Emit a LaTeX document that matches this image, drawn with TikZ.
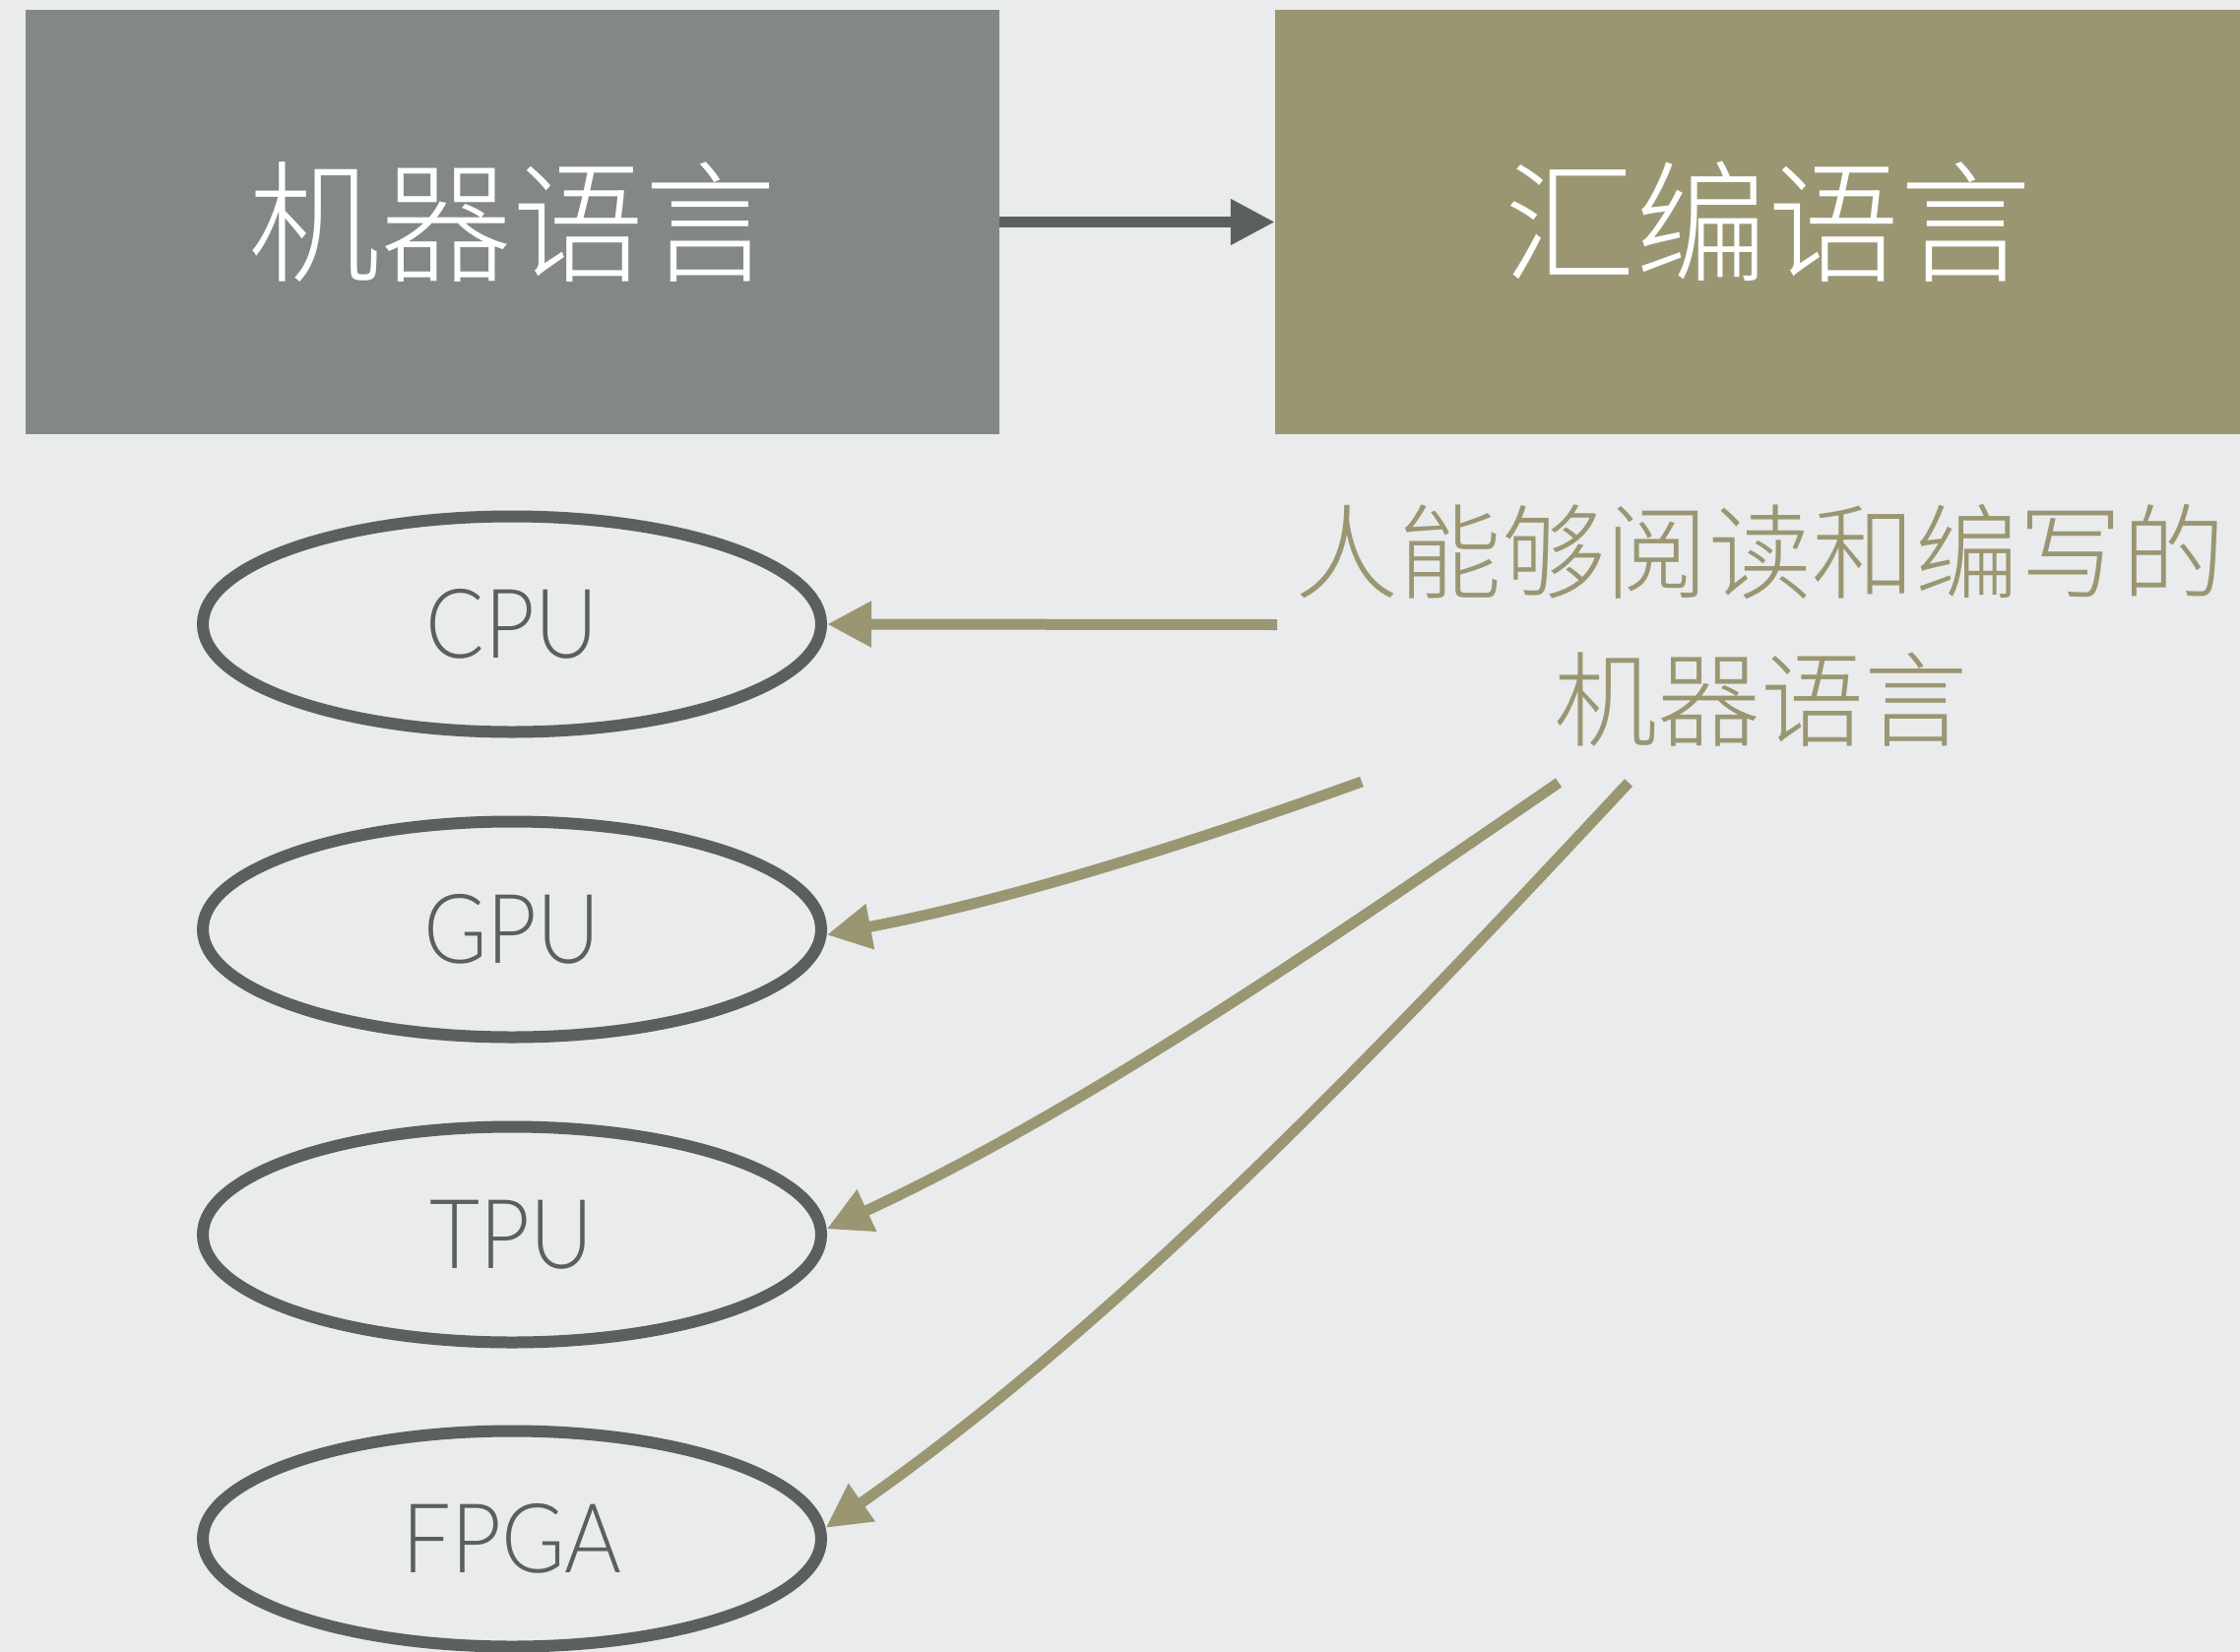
\documentclass[tikz,border=0pt]{standalone}
\usepackage{fontspec}
\setmainfont{Lato Light}[FakeStretch=0.9]
\newfontfamily\cjk{Noto Sans CJK SC Light}
\usetikzlibrary{shapes.geometric,arrows.meta}
\definecolor{bg}{HTML}{E9EBED}
\definecolor{dk}{HTML}{5B5F5E}
\definecolor{lg}{HTML}{838885}
\definecolor{ol}{HTML}{9B9672}
\begin{document}
\begin{tikzpicture}[x=1pt,y=-1pt,
  box/.style={rectangle,inner sep=0pt,text=white,font=\cjk\fontsize{134}{150}\selectfont},
  chip/.style={ellipse,draw=dk,line width=12pt,minimum width=628pt,minimum height=219pt,inner sep=0pt,text=dk,font=\fontsize{98}{110}\selectfont},
  olivearr/.style={draw=ol,line width=11pt,-{Triangle[length=45pt,width=44pt]}},
  grayarr/.style={draw=dk,line width=11pt,-{Triangle[length=45pt,width=44pt]}}]
\path[fill=bg,use as bounding box] (0,0) rectangle (2275,1678);
\clip (0,0) rectangle (2275,1678);
% top boxes
\node[box,fill=lg,minimum width=989pt,minimum height=431pt] (mach) at (520.5,225.5) {机器语言};
\node[box,fill=ol,minimum width=1000pt,minimum height=431pt] (asm) at (1795,225.5) {汇编语言};
\draw[grayarr] (mach.east) -- (asm.west);
% explanation text
\node[text=ol,align=center,inner sep=0pt,font=\cjk\fontsize{105}{150}\selectfont] (hint) at (1788,635) {人能够阅读和编写的\\机器语言};
% hardware ellipses
\node[chip] (cpu) at (520,634) {CPU};
\node[chip] (gpu) at (520,944) {GPU};
\node[chip] (tpu) at (520,1254) {TPU};
\node[chip] (fpga) at (520,1563) {FPGA};
% connector start points
\coordinate (s1) at (1297,634.5);
\coordinate (s2) at (1383,794);
\coordinate (s3) at (1583,795);
\coordinate (s4) at (1654,795);
\draw[olivearr] (s1) -- (cpu.east);
\draw[olivearr] (s2) .. controls (1208,857) and (1023,915) .. (gpu.-1.3);
\draw[olivearr] (s3) .. controls (1347,957) and (1101,1127) .. (tpu.1.1);
\draw[olivearr] (s4) .. controls (1404,1063) and (1142,1339) .. (fpga.2.5);
\end{tikzpicture}
\end{document}
